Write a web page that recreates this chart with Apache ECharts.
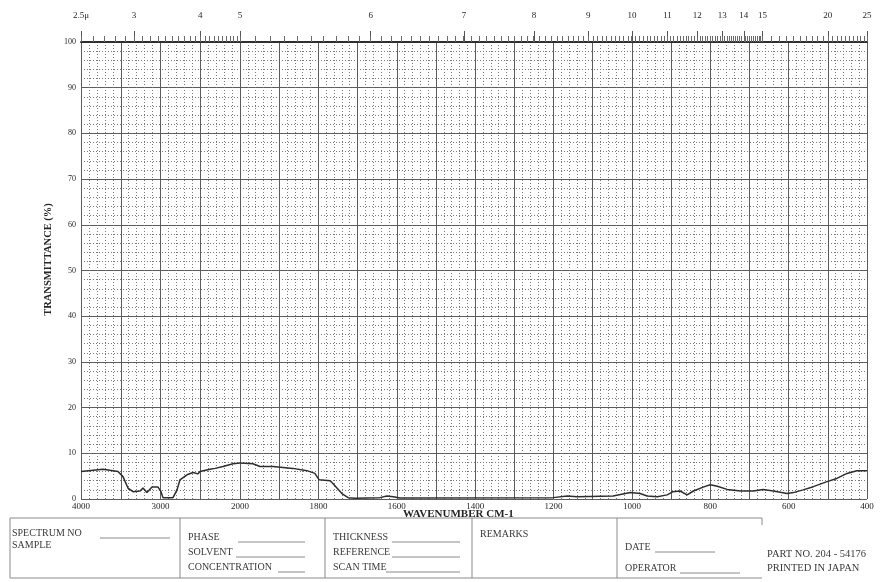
<!DOCTYPE html>
<html>
<head>
<meta charset="utf-8">
<script src="https://cdn.jsdelivr.net/npm/echarts@6/dist/echarts.min.js"></script>
<style>
  html, body { margin: 0; padding: 0; background: #ffffff; }
  #chart { width: 882px; height: 582px; }
</style>
</head>
<body>
<div id="chart"></div>
<script>
// Infrared transmittance trace: wavenumber (cm-1) against transmittance (%)
const wavenumbers = [
  4000, 3723, 3535, 3472, 3409, 3346, 3258, 3220, 3170, 3107, 3031, 2994, 2969, 2843,
  2792, 2755, 2667, 2591, 2528, 2503, 2377, 2314, 2214, 2088, 2000,
  1967, 1949, 1916, 1865, 1829, 1809, 1798, 1770, 1763, 1740, 1724, 1706, 1643, 1625,
  1609, 1592, 1201, 1165, 1140, 1048, 1004, 979, 961, 935, 910, 895, 877, 859, 843,
  818, 800, 782, 757, 723, 690, 665, 639, 604, 588, 563, 537, 502, 477, 451, 426, 400
];
const transmittance = [
  6.0, 6.5, 6.0, 4.9, 2.4, 1.6, 1.75, 2.4, 1.4, 2.6, 2.6, 1.6, 0.3, 0.3,
  2.0, 4.2, 5.3, 5.8, 5.5, 6.0, 6.5, 6.7, 7.1, 7.7, 7.9,
  7.7, 7.1, 7.1, 6.7, 6.2, 5.6, 4.2, 4.0, 3.4, 1.2, 0.3, 0.15, 0.3, 0.65,
  0.5, 0.2, 0.3, 0.65, 0.5, 0.65, 1.4, 1.2, 0.65, 0.5, 0.9, 1.6, 1.75, 0.9, 1.75,
  2.6, 3.1, 2.8, 2.1, 1.75, 1.75, 2.1, 1.75, 1.2, 1.4, 2.0, 2.7, 3.8, 4.5, 5.6, 6.2, 6.2
];

// Bottom scale labels (cm-1) for the two paper sections
const highRangeLabels = [4000, 3000];
const lowRangeLabels = [2000, 1800, 1600, 1400, 1200, 1000, 800, 600, 400];
// Top wavelength scale labels (micrometres)
const micronLabels = [2.5, 3, 4, 5, 6, 7, 8, 9, 10, 11, 12, 13, 14, 15, 20, 25];

// Fine wavelength graduations printed along the top edge
const micronMinor = [];
for (let t = 25; t <= 150; t++) micronMinor.push(t / 10);
for (let t = 155; t <= 250; t += 5) micronMinor.push(t / 10);

const toWn = um => 100000 / Math.round(um * 10);

const highSeries = [], lowSeries = [];
wavenumbers.forEach((w, i) => {
  if (w >= 2000) highSeries.push([w, transmittance[i]]);
  if (w <= 2000) lowSeries.push([w, transmittance[i]]);
});

const SERIF = 'Liberation Serif';
const INK = '#262626';
const solid = { color: '#5c5c5c', width: 1 };
const dotted = { color: '#7a7a7a', width: 1, type: [1, 2] };

function bottomAxis(grid, min, max, interval, labels) {
  return {
    type: 'value', gridIndex: grid, position: 'bottom', inverse: true,
    min, max, interval,
    axisLine: { show: false }, axisTick: { show: false },
    axisLabel: {
      customValues: labels, margin: 3, fontFamily: SERIF, fontSize: 9, color: INK,
      formatter: v => String(v)
    },
    splitLine: { show: true, lineStyle: solid },
    minorTick: { show: false, splitNumber: 5 },
    minorSplitLine: { show: true, lineStyle: dotted }
  };
}
function topMajorAxis(grid, min, max, microns) {
  const vals = microns.map(toWn).filter(v => v >= min && v <= max);
  return {
    type: 'value', gridIndex: grid, position: 'top', inverse: true, min, max,
    axisLine: { show: true, lineStyle: { color: '#2e2e2e', width: 2 } },
    axisTick: { show: true, customValues: vals, length: 11, lineStyle: { color: '#555', width: 1 } },
    axisLabel: {
      customValues: vals, margin: 22, fontFamily: SERIF, fontSize: 9, color: INK,
      formatter: v => {
        const um = Math.round(100000 / v) / 10;
        return um === 2.5 ? '2.5\u03bc' : String(um);
      }
    },
    splitLine: { show: false }
  };
}
function topMinorAxis(grid, min, max) {
  const vals = micronMinor.map(toWn).filter(v => v >= min && v <= max);
  return {
    type: 'value', gridIndex: grid, position: 'top', inverse: true, min, max,
    axisLine: { show: false },
    axisTick: { show: true, customValues: vals, length: 6, lineStyle: { color: '#6a6a6a', width: 1 } },
    axisLabel: { show: false },
    splitLine: { show: false }
  };
}
function yAxis(grid, labelled) {
  return {
    type: 'value', gridIndex: grid, min: 0, max: 100, interval: 10,
    axisLine: { show: false }, axisTick: { show: false },
    axisLabel: { show: labelled, margin: 5, fontFamily: SERIF, fontSize: 8, color: INK },
    splitLine: { show: true, lineStyle: solid },
    minorTick: { show: false, splitNumber: 5 },
    minorSplitLine: { show: true, lineStyle: dotted },
    name: labelled ? 'TRANSMITTANCE (%)' : '',
    nameLocation: 'middle', nameGap: 27, nameRotate: 90,
    nameTextStyle: { fontFamily: SERIF, fontSize: 10.5, fontWeight: 'bold', color: INK, padding: [0, 0, 0, 22] }
  };
}

const traceStyle = { color: '#2e2e2e', width: 1.5 };

const option = {
  backgroundColor: '#ffffff',
  animation: false,
  grid: [
    { left: 81, top: 42, width: 159, height: 457 },
    { left: 240, top: 42, width: 627, height: 457 }
  ],
  xAxis: [
    bottomAxis(0, 2000, 4000, 500, highRangeLabels),
    topMajorAxis(0, 2000, 4000, micronLabels),
    topMinorAxis(0, 2000, 4000),
    bottomAxis(1, 400, 2000, 100, lowRangeLabels),
    topMajorAxis(1, 400, 2000, micronLabels.filter(m => m > 5)),
    topMinorAxis(1, 400, 1999)
  ],
  yAxis: [yAxis(0, true), yAxis(1, false)],
  series: [
    {
      type: 'line', xAxisIndex: 0, yAxisIndex: 0, data: highSeries,
      showSymbol: false, symbol: 'none', lineStyle: traceStyle, clip: false
    },
    {
      type: 'line', xAxisIndex: 3, yAxisIndex: 1, data: lowSeries,
      showSymbol: false, symbol: 'none', lineStyle: traceStyle, clip: false
    }
  ],
  graphic: (function () {
    const els = [];
    const txt = (x, y, text, opts) => els.push({
      type: 'text', left: x, top: y,
      style: Object.assign({ text, fontFamily: SERIF, fontSize: 10, fill: '#3a3a3a' }, opts || {})
    });
    const line = (x1, y1, x2, y2) => els.push({
      type: 'line', shape: { x1, y1, x2, y2 },
      style: { stroke: '#8a8a8a', lineWidth: 1 }
    });
    // axis caption
    txt(403, 509, 'WAVENUMBER CM-1', { fontSize: 11, fontWeight: 'bold', fill: INK });
    // record form below the chart
    line(10, 518, 762, 518);
    line(10, 578, 762, 578);
    [10, 180, 325, 472, 617].forEach(x => line(x, 518, x, 578));
    line(762, 518, 762, 525);
    txt(12, 528, 'SPECTRUM NO');
    line(100, 538, 170, 538);
    txt(12, 540, 'SAMPLE');
    txt(188, 532, 'PHASE');
    line(238, 542, 305, 542);
    txt(188, 547, 'SOLVENT');
    line(236, 557, 305, 557);
    txt(188, 562, 'CONCENTRATION');
    line(278, 572, 305, 572);
    txt(333, 532, 'THICKNESS');
    line(392, 542, 460, 542);
    txt(333, 547, 'REFERENCE');
    line(392, 557, 460, 557);
    txt(333, 562, 'SCAN TIME');
    line(386, 572, 460, 572);
    txt(480, 529, 'REMARKS');
    txt(625, 542, 'DATE');
    line(655, 552, 715, 552);
    txt(625, 563, 'OPERATOR');
    line(680, 573, 740, 573);
    txt(767, 549, 'PART NO. 204 - 54176', { fontSize: 10.5 });
    txt(767, 563, 'PRINTED IN JAPAN', { fontSize: 10.5 });
    return els;
  })()
};

const chart = echarts.init(document.getElementById('chart'), null, { renderer: 'canvas' });
chart.setOption(option);
</script>
</body>
</html>
